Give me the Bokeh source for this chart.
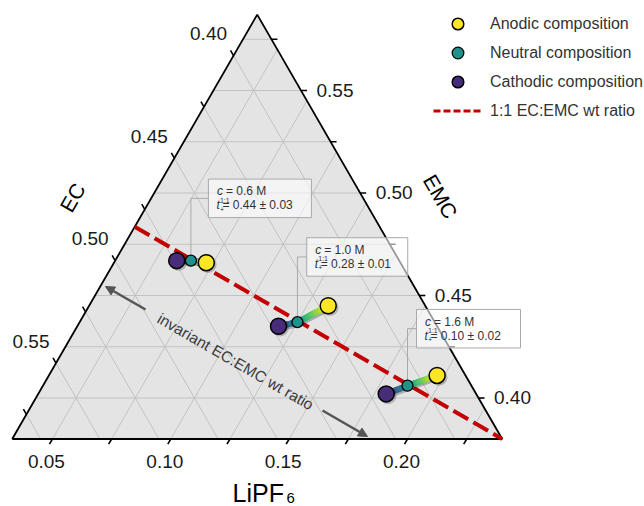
import math
import numpy as np
from bokeh.plotting import figure
from bokeh.models import Range1d, Label, Arrow, NormalHead, Legend, LegendItem
from bokeh.palettes import Viridis256
from bokeh.embed import file_html
from bokeh.resources import INLINE

# ---------------- data ----------------
concentration = [0.6, 1.0, 1.6]          # M
t_plus = [0.44, 0.28, 0.10]
t_plus_err = [0.03, 0.01, 0.02]

# mass fractions (LiPF6, EC, EMC)
cath_lipf6 = [0.059, 0.118, 0.180]
cath_ec = [0.474, 0.447, 0.418]
cath_emc = [0.467, 0.435, 0.402]
neut_lipf6 = [0.065, 0.125, 0.187]
neut_ec = [0.468, 0.438, 0.407]
neut_emc = [0.467, 0.437, 0.406]
anod_lipf6 = [0.072, 0.134, 0.197]
anod_ec = [0.462, 0.421, 0.392]
anod_emc = [0.466, 0.445, 0.411]

lipf6_ticks = [0.05, 0.10, 0.15, 0.20]
ec_ticks = [0.40, 0.45, 0.50, 0.55]
emc_ticks = [0.40, 0.45, 0.50, 0.55]
minor_step = 0.025

legend_labels = ["Anodic composition", "Neutral composition",
                 "Cathodic composition", "1:1 EC:EMC wt ratio"]

# ternary limits
L_MIN = 0.033
S_MIN = 0.38                 # min of EC and of EMC
R = 1 - L_MIN - 2 * S_MIN    # span of every axis
L_MAX = L_MIN + R
S_MAX = S_MIN + R

# ---------------- colours / fonts ----------------
YELLOW = "#fde725"
TEAL = "#21918c"
PURPLE = "#472c7a"
RED = "#c40000"
FONT = "Liberation Sans"
HV = math.sqrt(3) / 2

# ---------------- page layout ----------------
W, HPX = 644, 506
PXU = 490.0        # pixels per triangle side
X0, Y0 = 11.7, 438.5   # pixel position of the bottom-left vertex


def D(px):
    return px / PXU


def P(px, py):
    return (px - X0) / PXU, (Y0 - py) / PXU


def tern(L, EMC):
    a = (np.asarray(L, dtype=float) - L_MIN) / R
    b = (np.asarray(EMC, dtype=float) - S_MIN) / R
    return a + b / 2, b * HV


p = figure(width=W, height=HPX, output_backend="svg", toolbar_location=None,
           x_range=Range1d(-X0 / PXU, (W - X0) / PXU),
           y_range=Range1d((Y0 - HPX) / PXU, Y0 / PXU),
           min_border=0)
p.axis.visible = False
p.grid.visible = False
p.outline_line_color = None
p.background_fill_color = "white"
p.border_fill_color = "white"

# triangle background
vx, vy = tern([L_MIN, L_MAX, L_MIN], [S_MIN, S_MIN, S_MAX])
p.patch(list(vx), list(vy), fill_color="#e4e4e4", line_color=None)

# grid lines
def steps(lo, hi):
    k0 = math.ceil(lo / minor_step + 1e-9)
    k1 = math.floor(hi / minor_step - 1e-9)
    return [round(k * minor_step, 4) for k in range(k0, k1 + 1)]

gx, gy = [], []
for v in steps(L_MIN, L_MAX):
    x, y = tern([v, v], [S_MIN, 1 - v - S_MIN])
    gx.append(list(x)); gy.append(list(y))
for v in steps(S_MIN, S_MAX):
    x, y = tern([L_MIN, 1 - v - S_MIN], [v, v])          # EMC = v
    gx.append(list(x)); gy.append(list(y))
    x, y = tern([L_MIN, 1 - v - S_MIN], [1 - v - L_MIN, S_MIN])  # EC = v
    gx.append(list(x)); gy.append(list(y))
p.multi_line(gx, gy, line_color="#c2c2c2", line_width=1)

# triangle edges
p.line(list(vx) + [vx[0]], list(vy) + [vy[0]], line_color="black", line_width=1.8)

# ticks
TL = D(6)
tx, ty = [], []
for v in steps(L_MIN, L_MAX):
    x, y = tern(v, S_MIN)
    tx.append([x, x - 0.5 * TL]); ty.append([y, y - HV * TL])
for v in steps(S_MIN, S_MAX):
    x, y = tern(1 - v - S_MIN, v)
    tx.append([x, x + TL]); ty.append([y, y])
    x, y = tern(L_MIN, 1 - v - L_MIN)
    tx.append([x, x - 0.5 * TL]); ty.append([y, y + HV * TL])
p.multi_line(tx, ty, line_color="black", line_width=1.6)

# tick labels
def lab(x, y, text, size="19px", align="center", angle=0.0, color="#1a1a1a",
        style="normal", baseline="middle"):
    p.add_layout(Label(x=float(x), y=float(y), text=text, text_font=FONT,
                       text_font_size=size, text_align=align,
                       text_baseline=baseline, angle=angle,
                       text_color=color, text_font_style=style))

for v in lipf6_ticks:
    x, y = tern(v, S_MIN)
    lab(x + D(-6), y + D(-22.5), f"{v:.2f}")
for v in emc_ticks:
    x, y = tern(1 - v - S_MIN, v)
    lab(x + D(15.5), y, f"{v:.2f}", align="left")
for v in ec_ticks:
    x, y = tern(L_MIN, 1 - v - L_MIN)
    lab(x + D(-25), y + D(22), f"{v:.2f}")

# axis titles
lab(*P(72, 197), "EC", size="21px", angle=math.pi / 3, color="black")
lab(*P(440, 196), "EMC", size="21px", angle=-math.pi / 3, color="black")
lab(*P(232, 492), "LiPF", size="25px", align="left", color="black")
lab(*P(286, 497.5), "6", size="15px", align="left", color="black")

# 1:1 EC:EMC line
lx, ly = tern([L_MIN, L_MAX], [(1 - L_MIN) / 2, (1 - L_MAX) / 2])
p.line(list(lx), list(ly), line_color=RED, line_width=4, line_dash="17 6")

# invariant ratio annotation
ARROW = "#555555"
for (sx, sy), (ex, ey) in [((145, 309), (105, 286)), ((322, 410), (367, 436))]:
    xs, ys = P(sx, sy)
    xe, ye = P(ex, ey)
    p.add_layout(Arrow(end=NormalHead(size=9, fill_color=ARROW, line_color=ARROW),
                       x_start=xs, y_start=ys, x_end=xe, y_end=ye,
                       line_color=ARROW, line_width=2.5))
lab(*P(235, 361), "invariant EC:EMC wt ratio", size="15.5px",
    angle=-math.pi / 6, color="#3a3a3a")

# annotation boxes
cx_, cy_ = tern(cath_lipf6, cath_emc)
nx_, ny_ = tern(neut_lipf6, neut_emc)
ax_, ay_ = tern(anod_lipf6, anod_emc)

box_dx = [17.5, 9.3, 9.0]
box_dy = [62.3, 65.2, 57.0]
box_w = [103, 101, 104]
box_h = 38.5
BOXC = "#a9a9a9"
for i in range(3):
    left = nx_[i] + D(box_dx[i])
    mid = ny_[i] + D(box_dy[i])
    p.line([nx_[i], nx_[i], left], [ny_[i], mid, mid], line_color=BOXC, line_width=1)
    p.quad(left=[left], right=[left + D(box_w[i])], top=[mid + D(box_h / 2)],
           bottom=[mid - D(box_h / 2)], fill_color="white", fill_alpha=0.6,
           line_color=BOXC, line_width=1)
    y1 = mid + D(7)
    y2 = mid - D(7)
    lab(left + D(8.5), y1, "c", size="12px", align="left", color="#333333", style="italic")
    lab(left + D(17.5), y1, f"= {concentration[i]:.1f} M", size="12px", align="left", color="#333333")
    lab(left + D(8), y2, "t", size="12px", align="left", color="#333333", style="italic")
    lab(left + D(11.5), y2 + D(5), "1:1", size="7px", align="left", color="#333333")
    lab(left + D(11.5), y2 - D(4), "+", size="7px", align="left", color="#333333")
    lab(left + D(14), y2, f"= {t_plus[i]:.2f} \u00b1 {t_plus_err[i]:.2f}", size="12px",
        align="left", color="#333333")

# gradient connecting lines (with a soft drop shadow)
def vcol(t):
    return Viridis256[int(round(t * 255))]

SH = D(1.8)
NSEG = 16
sxs, sys_, scs = [], [], []
for i in range(3):
    for (x0, y0, t0), (x1, y1, t1) in [((cx_[i], cy_[i], 0.08), (nx_[i], ny_[i], 0.5)),
                                       ((nx_[i], ny_[i], 0.5), (ax_[i], ay_[i], 1.0))]:
        for k in range(NSEG):
            f0, f1 = k / NSEG, (k + 1) / NSEG
            sxs.append([x0 + (x1 - x0) * f0, x0 + (x1 - x0) * f1])
            sys_.append([y0 + (y1 - y0) * f0, y0 + (y1 - y0) * f1])
            scs.append(vcol(t0 + (t1 - t0) * (f0 + f1) / 2))
shx = [[cx_[i] + SH, nx_[i] + SH, ax_[i] + SH] for i in range(3)]
shy = [[cy_[i] - SH, ny_[i] - SH, ay_[i] - SH] for i in range(3)]
p.multi_line(shx, shy, line_color="black", line_alpha=0.25, line_width=6,
             line_cap="round", line_join="round")
p.multi_line(sxs, sys_, line_color=scs, line_width=6, line_cap="round")

# markers (shadow first)
for xs_, ys_, sz in [(cx_, cy_, 16), (ax_, ay_, 16)]:
    p.scatter(list(np.asarray(xs_) + SH), list(np.asarray(ys_) - SH), marker="circle",
              size=sz + 1, fill_color="black", fill_alpha=0.22, line_color=None)
r_ca = p.scatter(list(cx_), list(cy_), marker="circle", size=16, fill_color=PURPLE,
                 line_color="black", line_width=1.5)
r_an = p.scatter(list(ax_), list(ay_), marker="circle", size=16, fill_color=YELLOW,
                 line_color="black", line_width=1.5)
r_ne = p.scatter(list(nx_), list(ny_), marker="circle", size=11, fill_color=TEAL,
                 line_color="black", line_width=1.3)

# legend proxy for the dashed line (shorter dashes, as in the reference legend)
r_li = p.line(x=[float("nan")], y=[float("nan")], line_color=RED, line_width=3,
              line_dash="7 3")

legend = Legend(items=[LegendItem(label=legend_labels[0], renderers=[r_an]),
                       LegendItem(label=legend_labels[1], renderers=[r_ne]),
                       LegendItem(label=legend_labels[2], renderers=[r_ca]),
                       LegendItem(label=legend_labels[3], renderers=[r_li])],
                location=(433, 381), glyph_width=49, glyph_height=29, spacing=0,
                label_standoff=8, padding=0, margin=0, border_line_color=None,
                background_fill_alpha=0, label_text_font=FONT,
                label_text_font_size="16px", label_text_color="#333333",
                label_height=20)
p.add_layout(legend)

open("out.html", "w").write(file_html(p, INLINE))
